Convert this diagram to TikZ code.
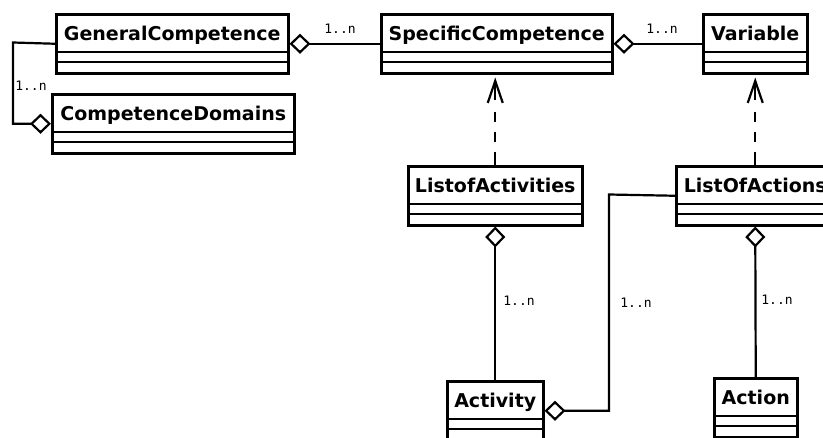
\documentclass[tikz,border=0pt]{standalone}
\usepackage{fontspec}
\setmainfont{DejaVu Sans}
\newfontfamily\lblfont{DejaVu Sans Mono}
\usetikzlibrary{arrows.meta,calc}

\tikzset{
 classbox/.style={draw, line width=2.5pt, inner sep=0pt, minimum height=59pt, anchor=north west},
 classname/.style={font=\bfseries\fontsize{19}{22}\selectfont, anchor=base, inner sep=0pt},
 compline/.style={line width=2.5pt},
 conn/.style={line width=2.2pt},
 agg/.style={conn, -{Diamond[open, length=21pt, width=20pt]}},
 dep/.style={line width=2.2pt, dash pattern=on 13pt off 10pt on 10pt off 10pt on 10pt off 12pt},
 deptip/.style={line width=2.2pt, -{Straight Barb[length=22pt, width=15pt]}},
 mult/.style={font=\lblfont\fontsize{13}{15}\selectfont, inner sep=0pt},
}

\newcommand\umlclass[5]{%
 \node[classbox, minimum width=#4pt] (#1) at (#2,#3) {};
 \node[classname] (#1-name) at ($(#1.north)+(0,27)$) {#5};
 \draw[compline] ($(#1.north west)+(0,39)$) -- ($(#1.north east)+(0,39)$);
 \draw[compline] ($(#1.north west)+(0,49)$) -- ($(#1.north east)+(0,49)$);
}

\begin{document}
\begin{tikzpicture}[x=1pt, y=-1pt]
\clip (0,0) rectangle (823,437);

\umlclass{gc}{55}{13}{232}{GeneralCompetence}
\umlclass{cd}{51}{93}{242}{CompetenceDomains}
\umlclass{sc}{380}{13}{231}{SpecificCompetence}
\umlclass{var}{702}{13}{104}{Variable}
\umlclass{loa}{407}{165}{174}{ListofActivities}
\umlclass{loact}{675}{165}{158}{ListOfActions}
\umlclass{act}{446}{380}{96}{Activity}
\umlclass{action}{713}{377}{83}{Action}

% aggregations
\draw[agg] (sc.west) -- (gc.east);
\draw[agg] (var.west) -- (sc.east);
\coordinate (k1) at (13,42.5);
\draw[agg] (gc.west) -- (k1) |- (cd.west);
\draw[agg] (act.north) -- (loa.south);
\coordinate (k2) at (609,194.5);
\draw[agg] (loact.west) -- (k2) |- (act.east);
\draw[agg] (action.north) -- (loact.south);

% dependencies
\coordinate (d1) at ($(loa.north)+(0,-65)$);
\coordinate (t1) at ($(loa.north |- sc.south)+(0,3)$);
\draw[dep] (loa.north) -- (d1);
\draw[deptip] (d1) -- (t1);
\coordinate (d2) at ($(loact.north)+(0,-65)$);
\coordinate (t2) at ($(loact.north |- var.south)+(0,3)$);
\draw[dep] (loact.north) -- (d2);
\draw[deptip] (d2) -- (t2);

% multiplicities
\node[mult] (m1) at (340,29) {1..n};
\node[mult] (m2) at (31,86) {1..n};
\node[mult] (m3) at (662,29) {1..n};
\node[mult] (m4) at (519,301) {1..n};
\node[mult] (m5) at (636,303) {1..n};
\node[mult] (m6) at (777,300) {1..n};
\end{tikzpicture}
\end{document}
